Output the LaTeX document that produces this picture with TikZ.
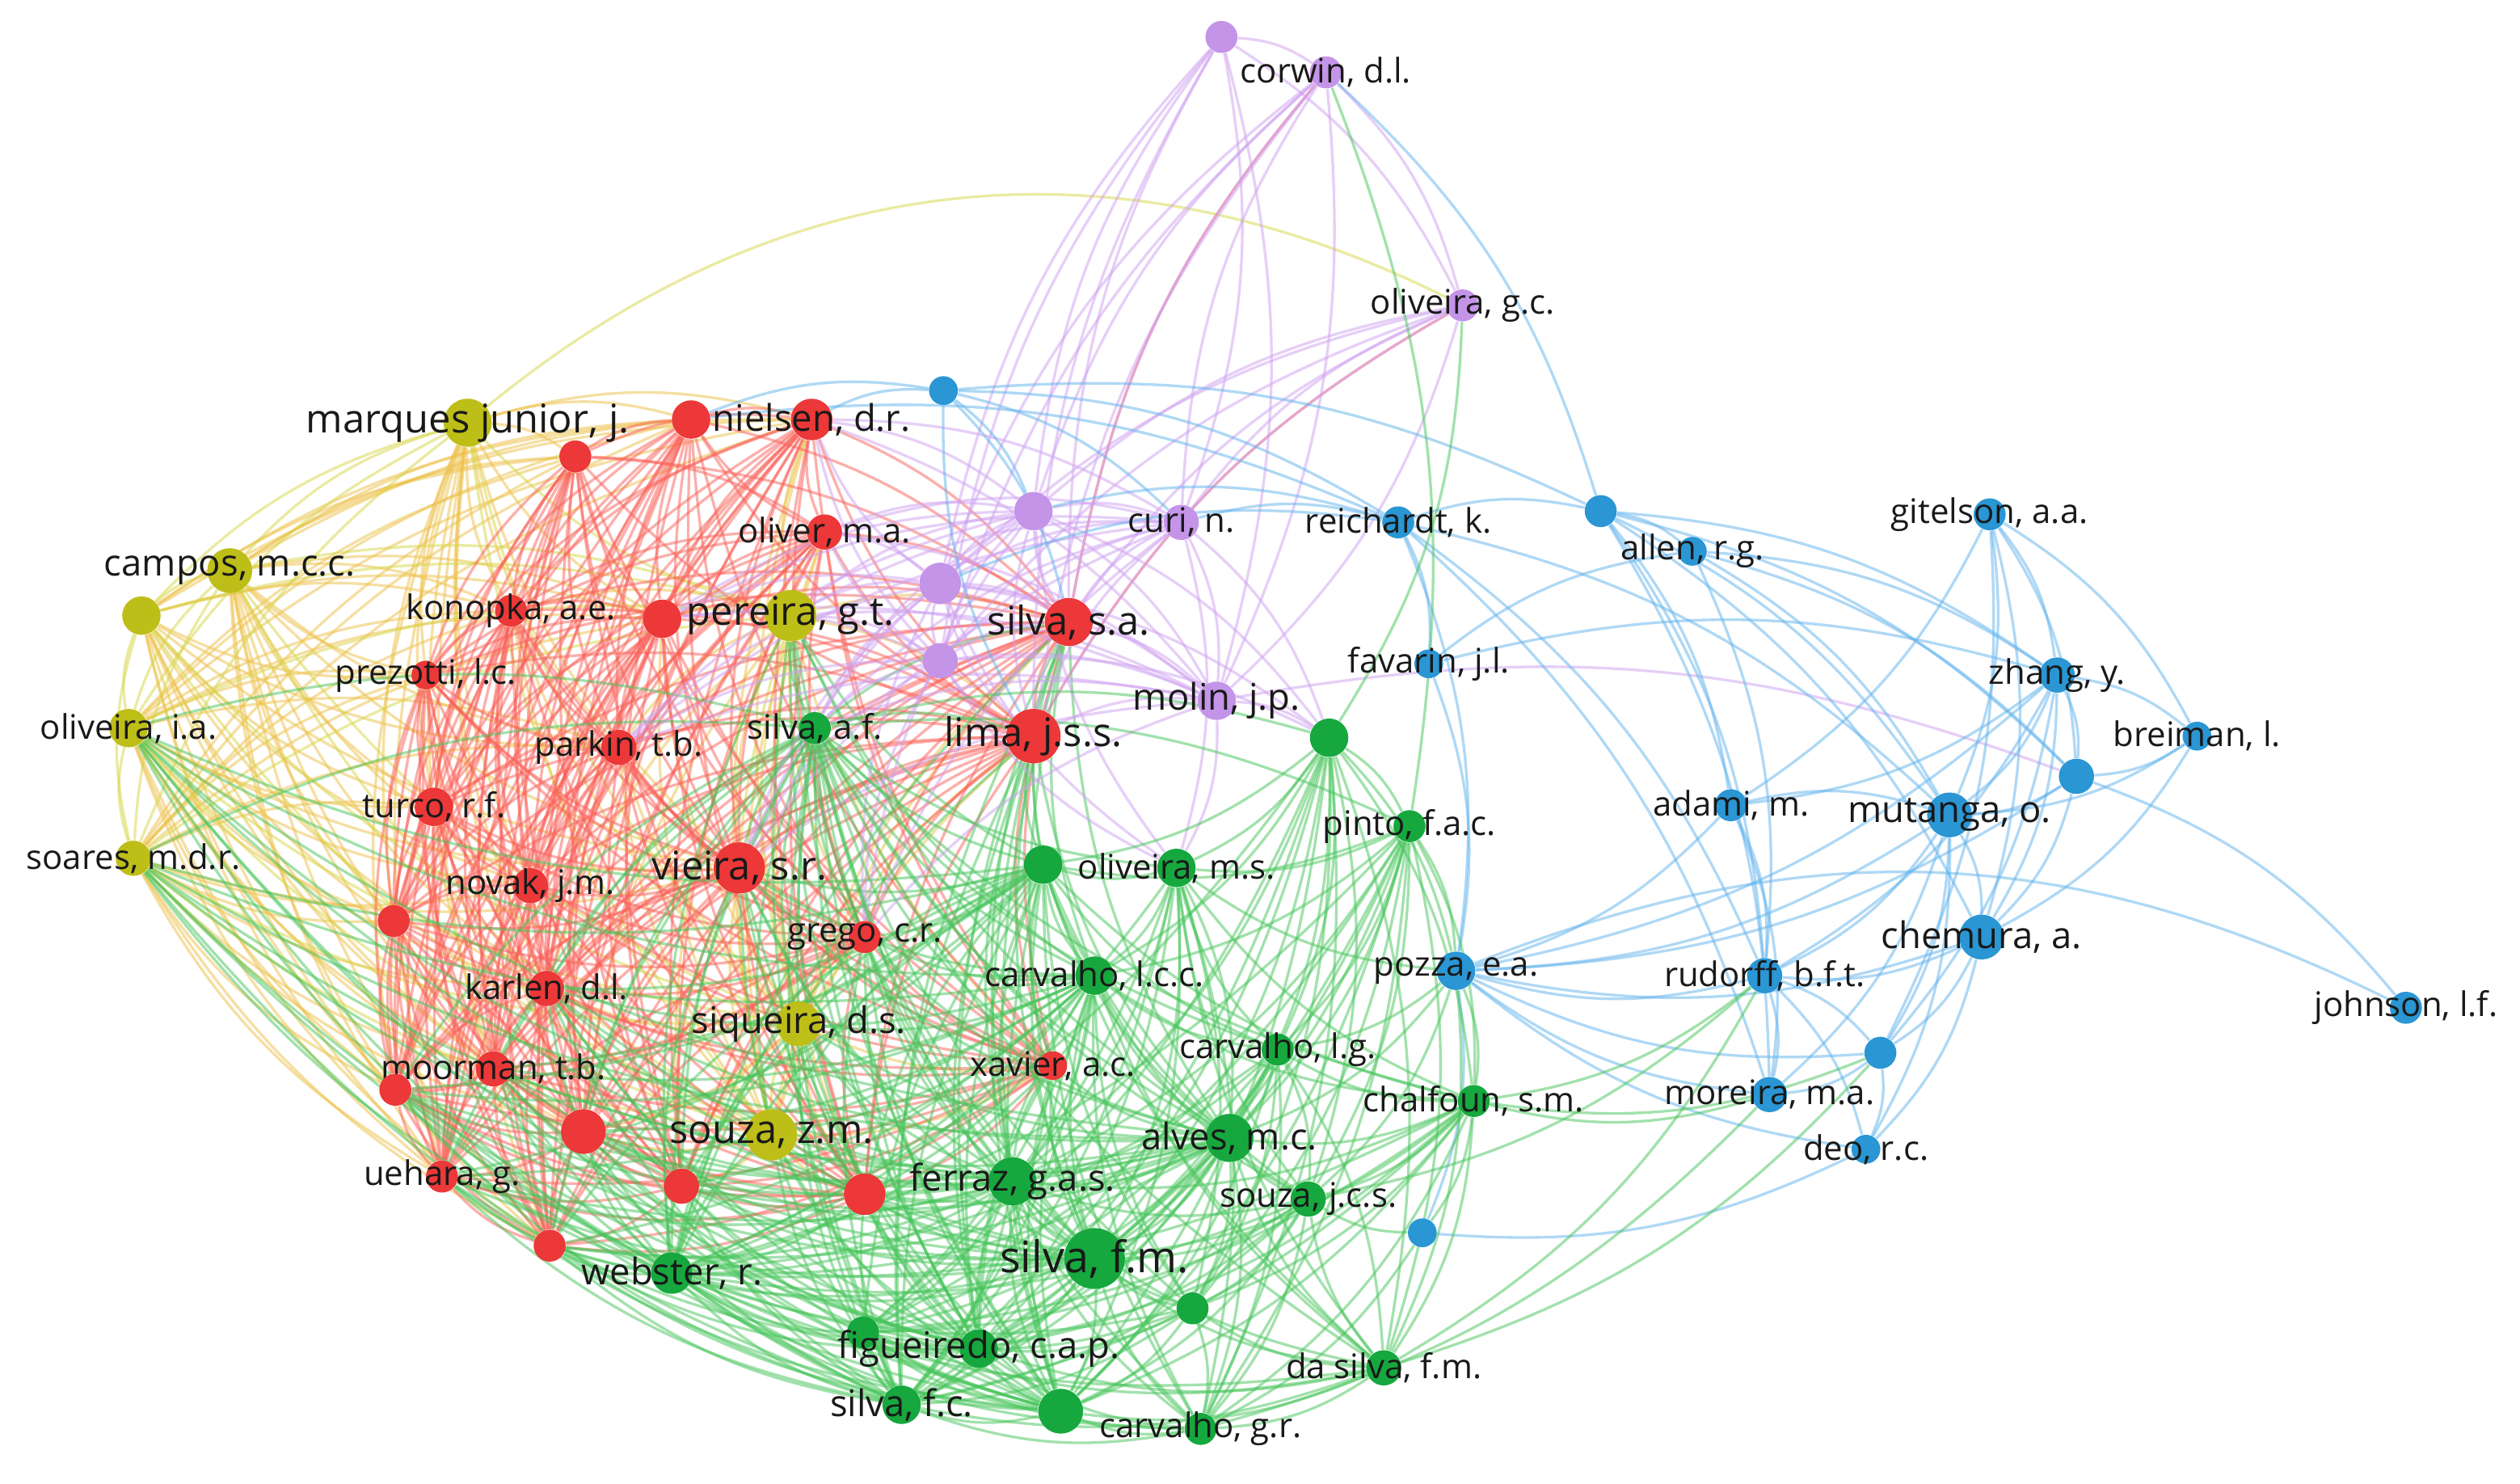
\documentclass[tikz,border=0pt]{standalone}
\usepackage{fontspec}
\newfontfamily\vos{Open Sans}
\usetikzlibrary{backgrounds}

\definecolor{vosred}{RGB}{236,56,56}
\definecolor{vosgreen}{RGB}{22,168,62}
\definecolor{vosblue}{RGB}{42,150,212}
\definecolor{vosyellow}{RGB}{190,190,24}
\definecolor{vospurple}{RGB}{196,148,232}
\definecolor{redln}{RGB}{250,96,88}
\definecolor{greenln}{RGB}{70,196,90}
\definecolor{blueln}{RGB}{96,178,236}
\definecolor{yelln}{RGB}{214,214,70}
\definecolor{purpln}{RGB}{206,160,240}
\definecolor{orangeln}{RGB}{236,192,72}

% curved co-authorship link, bent away from the middle of the map
\newcommand{\vlink}[2]{%
  \pgfpointanchor{#1}{center}\pgfgetlastxy{\vAx}{\vAy}%
  \pgfpointanchor{#2}{center}\pgfgetlastxy{\vBx}{\vBy}%
  \pgfmathsetmacro{\vbend}{15*sign(((\vBx-\vAx)/100)*(((\vAy+\vBy)/2+283.5)/100)-((\vBy-\vAy)/100)*(((\vAx+\vBx)/2-408.2)/100))}%
  \draw[coauth] (#1) to[bend left=\vbend] (#2);}

\begin{document}
\begin{tikzpicture}[x=0.02cm, y=-0.02cm,
  au/.style={circle, inner sep=0pt, minimum size=#1*0.567pt},
  vr/.style={fill=vosred}, vg/.style={fill=vosgreen}, vb/.style={fill=vosblue},
  vy/.style={fill=vosyellow}, vp/.style={fill=vospurple},
  lab/.style={font=\vos\fontsize{12}{14}\selectfont, text=black!90, inner sep=0pt},
  labM/.style={lab, font=\vos\fontsize{13}{15}\selectfont},
  labL/.style={lab, font=\vos\fontsize{14}{16}\selectfont},
  labX/.style={lab, font=\vos\fontsize{15.4}{18}\selectfont},
  nm/.style={label={[lab]center:{#1}}},
  nmM/.style={label={[labM]center:{#1}}},
  nmL/.style={label={[labL]center:{#1}}},
  nmX/.style={label={[labX]center:{#1}}},
  coauth/.style={line width=.95pt, opacity=.5}]
\useasboundingbox (0,0) rectangle (1568,923);

% yellow cluster
\node[au=30, vy, nmL={marques junior, j.}] (marques) at (291,263) {};
\node[au=28, vy, nmM={campos, m.c.c.}] (campos) at (143,355) {};
\node[au=24, vy] (yA) at (88,383) {};
\node[au=32, vy, nmL={pereira, g.t.}] (pereira) at (492,383) {};
\node[au=24, vy, nm={oliveira, i.a.}] (oliveiraia) at (80,453) {};
\node[au=22, vy, nm={soares, m.d.r.}] (soares) at (83,534) {};
\node[au=28, vy, nmM={siqueira, d.s.}] (siqueira) at (497,637) {};
\node[au=32, vy, nmL={souza, z.m.}] (souzazm) at (480,706) {};

% red cluster
\node[au=24, vr] (rA) at (430,261) {};
\node[au=26, vr, nmM={nielsen, d.r.}] (nielsen) at (505,261) {};
\node[au=20, vr] (rB) at (358,284) {};
\node[au=22, vr, nm={oliver, m.a.}] (oliver) at (513,331) {};
\node[au=20, vr, nm={konopka, a.e.}] (konopka) at (318,380) {};
\node[au=24, vr] (rC) at (412,385) {};
\node[au=30, vr, nmL={silva, s.a.}] (silvasa) at (665,387) {};
\node[au=18, vr, nm={prezotti, l.c.}] (prezotti) at (265,420) {};
\node[au=22, vr, nm={parkin, t.b.}] (parkin) at (385,465) {};
\node[au=34, vr, nmL={lima, j.s.s.}] (lima) at (643,458) {};
\node[au=24, vr, nm={turco, r.f.}] (turco) at (270,502) {};
\node[au=32, vr, nmL={vieira, s.r.}] (vieira) at (460,540) {};
\node[au=22, vr, nm={novak, j.m.}] (novak) at (330,551) {};
\node[au=20, vr] (rD) at (245,573) {};
\node[au=20, vr, nm={grego, c.r.}] (grego) at (538,583) {};
\node[au=22, vr, nm={karlen, d.l.}] (karlen) at (340,615) {};
\node[au=18, vr, nm={xavier, a.c.}] (xavier) at (655,663) {};
\node[au=22, vr, nm={moorman, t.b.}] (moorman) at (307,665) {};
\node[au=20, vr] (rE) at (246,678) {};
\node[au=28, vr] (rF) at (363,704) {};
\node[au=20, vr, nm={uehara, g.}] (uehara) at (275,732) {};
\node[au=22, vr] (rG) at (424,738) {};
\node[au=26, vr] (rH) at (538,743) {};
\node[au=20, vr] (rI) at (342,775) {};

% green cluster
\node[au=24, vg] (gA) at (827,459) {};
\node[au=20, vg, nm={pinto, f.a.c.}] (pinto) at (877,514) {};
\node[au=20, vg, nm={silva, a.f.}] (silvaaf) at (507,453) {};
\node[au=24, vg] (gB) at (649,538) {};
\node[au=24, vg, nm={oliveira, m.s.}] (oliveirams) at (732,540) {};
\node[au=24, vg, nm={carvalho, l.c.c.}] (carvalholcc) at (681,607) {};
\node[au=20, vg, nm={carvalho, l.g.}] (carvalholg) at (795,653) {};
\node[au=20, vg, nm={chalfoun, s.m.}] (chalfoun) at (917,685) {};
\node[au=30, vg, nmM={alves, m.c.}] (alves) at (765,708) {};
\node[au=30, vg, nmM={ferraz, g.a.s.}] (ferraz) at (630,735) {};
\node[au=22, vg, nm={souza, j.c.s.}] (souzajcs) at (814,746) {};
\node[au=38, vg, nmX={silva, f.m.}] (silvafm) at (681,783) {};
\node[au=26, vg, nmM={webster, r.}] (webster) at (418,792) {};
\node[au=20, vg] (gC) at (537,829) {};
\node[au=24, vg, nmM={figueiredo, c.a.p.}] (figueiredo) at (609,839) {};
\node[au=20, vg] (gD) at (742,814) {};
\node[au=22, vg, nm={da silva, f.m.}] (dasilva) at (861,851) {};
\node[au=24, vg, nmM={silva, f.c.}] (silvafc) at (561,874) {};
\node[au=28, vg] (gE) at (660,878) {};
\node[au=20, vg, nm={carvalho, g.r.}] (carvalhogr) at (747,889) {};

% purple cluster
\node[au=20, vp] (pA) at (760,23) {};
\node[au=20, vp, nm={corwin, d.l.}] (corwin) at (825,45) {};
\node[au=20, vp, nm={oliveira, g.c.}] (oliveiragc) at (910,190) {};
\node[au=24, vp] (pB) at (643,318) {};
\node[au=22, vp, nm={curi, n.}] (curi) at (735,325) {};
\node[au=26, vp] (pC) at (585,363) {};
\node[au=22, vp] (pD) at (585,411) {};
\node[au=24, vp, nmM={molin, j.p.}] (molin) at (757,436) {};

% blue cluster
\node[au=18, vb] (bA) at (587,243) {};
\node[au=20, vb, nm={reichardt, k.}] (reichardt) at (870,325) {};
\node[au=20, vb] (bB) at (996,318) {};
\node[au=18, vb, nm={allen, r.g.}] (allen) at (1053,343) {};
\node[au=18, vb, nm={favarin, j.l.}] (favarin) at (889,413) {};
\node[au=20, vb, nm={gitelson, a.a.}] (gitelson) at (1238,320) {};
\node[au=22, vb, nm={zhang, y.}] (zhang) at (1280,420) {};
\node[au=22, vb] (bC) at (1292,483) {};
\node[au=18, vb, nm={breiman, l.}] (breiman) at (1367,458) {};
\node[au=20, vb, nm={adami, m.}] (adami) at (1077,501) {};
\node[au=28, vb, nmM={mutanga, o.}] (mutanga) at (1213,507) {};
\node[au=28, vb, nmM={chemura, a.}] (chemura) at (1233,583) {};
\node[au=24, vb, nm={pozza, e.a.}] (pozza) at (906,604) {};
\node[au=22, vb, nm={rudorff, b.f.t.}] (rudorff) at (1098,607) {};
\node[au=20, vb, nm={johnson, l.f.}] (johnson) at (1497,627) {};
\node[au=20, vb] (bD) at (1170,655) {};
\node[au=22, vb, nm={moreira, m.a.}] (moreira) at (1101,681) {};
\node[au=18, vb, nm={deo, r.c.}] (deo) at (1161,715) {};
\node[au=18, vb] (bE) at (885,767) {};

\def\yelset{marques,campos,yA,pereira,oliveiraia,soares,siqueira,souzazm}
\def\redset{rA,nielsen,rB,oliver,konopka,rC,silvasa,prezotti,parkin,lima,turco,vieira,novak,rD,grego,karlen,xavier,moorman,rE,rF,uehara,rG,rH,rI}
\def\greenset{gA,pinto,silvaaf,gB,oliveirams,carvalholcc,carvalholg,chalfoun,alves,ferraz,souzajcs,silvafm,webster,gC,figueiredo,gD,dasilva,silvafc,gE,carvalhogr}
\def\purpset{pA,corwin,oliveiragc,pB,curi,pC,pD,molin}

\begin{scope}[on background layer]
  % yellow authors with the red group
  \begin{scope}[orangeln]
    \foreach \a in {marques,campos,yA,oliveiraia,soares}
      \foreach \b in {rA,nielsen,rB,konopka,rC,prezotti,parkin,turco,vieira,novak,rD,karlen,moorman,rE,rF,uehara,rI}
        \vlink{\a}{\b};
    \foreach \a in {pereira,siqueira,souzazm}
      \foreach \b in {nielsen,oliver,konopka,rC,silvasa,parkin,lima,vieira,grego,karlen,xavier,rF,rG,rH}
        \vlink{\a}{\b};
  \end{scope}

  % yellow among themselves
  \begin{scope}[yelln]
    \foreach \a [count=\i] in \yelset {
      \foreach \b [count=\j] in \yelset {
        \ifnum\j>\i \vlink{\a}{\b}\fi
      }
    }
    \draw[coauth] (marques) to[bend left=33] (oliveiragc);
  \end{scope}

  % red among themselves
  \begin{scope}[redln]
    \foreach \a [count=\i] in \redset {
      \foreach \b [count=\j] in \redset {
        \ifnum\j>\i \vlink{\a}{\b}\fi
      }
    }
    \vlink{silvasa}{corwin}
    \vlink{lima}{oliveiragc}
  \end{scope}

  % green authors with the red and yellow groups
  \begin{scope}[greenln]
    \foreach \a in {webster,silvafm,ferraz,figueiredo,silvafc,gE,alves,gB,silvaaf,carvalholcc}
      \foreach \b in {soares,oliveiraia,uehara,rI,rE,rF,moorman,vieira,lima,silvasa,grego,xavier,rH,rG,souzazm,siqueira,pereira,karlen}
        \vlink{\b}{\a};
  \end{scope}

  % purple
  \begin{scope}[purpln]
    \foreach \a [count=\i] in \purpset {
      \foreach \b [count=\j] in \purpset {
        \ifnum\j>\i \vlink{\a}{\b}\fi
      }
    }
    \foreach \a in {pB,curi,pC,pD,molin}
      \foreach \b in {silvasa,lima,pereira,oliver,nielsen,vieira,rC,gA,silvaaf,grego,parkin,oliveirams}
        \vlink{\a}{\b};
    \foreach \a in {pA,corwin,oliveiragc}
      \foreach \b in {silvasa,lima}
        \vlink{\a}{\b};
    \vlink{molin}{bC}
  \end{scope}

  % blue
  \begin{scope}[blueln]
    \foreach \a/\b in {bA/reichardt, bA/pB, bA/curi, bA/silvasa, bA/lima, bA/nielsen, bA/bB, bA/rA,
        reichardt/curi, reichardt/bB, reichardt/favarin, reichardt/rudorff, reichardt/mutanga,
        reichardt/moreira, reichardt/pozza, reichardt/pB, reichardt/pC, rA/reichardt,
        bB/corwin, bB/allen, bB/zhang, bB/mutanga, bB/rudorff, bB/moreira, bB/chemura, bB/bC, bB/adami,
        allen/favarin, allen/zhang, allen/mutanga, allen/rudorff, allen/bC,
        favarin/pozza, favarin/zhang,
        gitelson/zhang, gitelson/bC, gitelson/mutanga, gitelson/chemura, gitelson/breiman,
        gitelson/bD, gitelson/adami,
        zhang/breiman, zhang/bC, zhang/mutanga, zhang/chemura, zhang/bD, zhang/pozza,
        zhang/adami, zhang/rudorff,
        bC/breiman, bC/mutanga, bC/chemura, bC/johnson, bC/pozza,
        breiman/chemura, breiman/mutanga,
        mutanga/chemura, mutanga/adami, mutanga/rudorff, mutanga/bD, mutanga/deo,
        mutanga/moreira, mutanga/pozza,
        chemura/bD, chemura/rudorff, chemura/deo, chemura/pozza,
        pozza/rudorff, pozza/bD, pozza/moreira, pozza/adami, pozza/bE, pozza/deo,
        rudorff/adami, rudorff/moreira, rudorff/deo, rudorff/bD,
        adami/moreira, bD/deo, bD/moreira, bE/deo}
      \vlink{\a}{\b};
    \draw[coauth] (pozza) to[bend left=24] (johnson);
  \end{scope}

  % green among themselves
  \begin{scope}[greenln]
    \foreach \a [count=\i] in \greenset {
      \foreach \b [count=\j] in \greenset {
        \ifnum\j>\i \vlink{\a}{\b}\fi
      }
    }
    \foreach \a/\b in {pozza/pinto, pozza/chalfoun, pozza/carvalholg, pozza/souzajcs, pozza/alves,
        pozza/gA, pozza/oliveirams, pozza/dasilva, bE/chalfoun, bE/souzajcs, bE/carvalhogr,
        chalfoun/rudorff, chalfoun/moreira, chalfoun/bD, dasilva/bD, dasilva/rudorff,
        carvalhogr/moreira, souzajcs/rudorff, oliveiragc/gA, corwin/pinto}
      \vlink{\a}{\b};
  \end{scope}
\end{scope}
\end{tikzpicture}
\end{document}
